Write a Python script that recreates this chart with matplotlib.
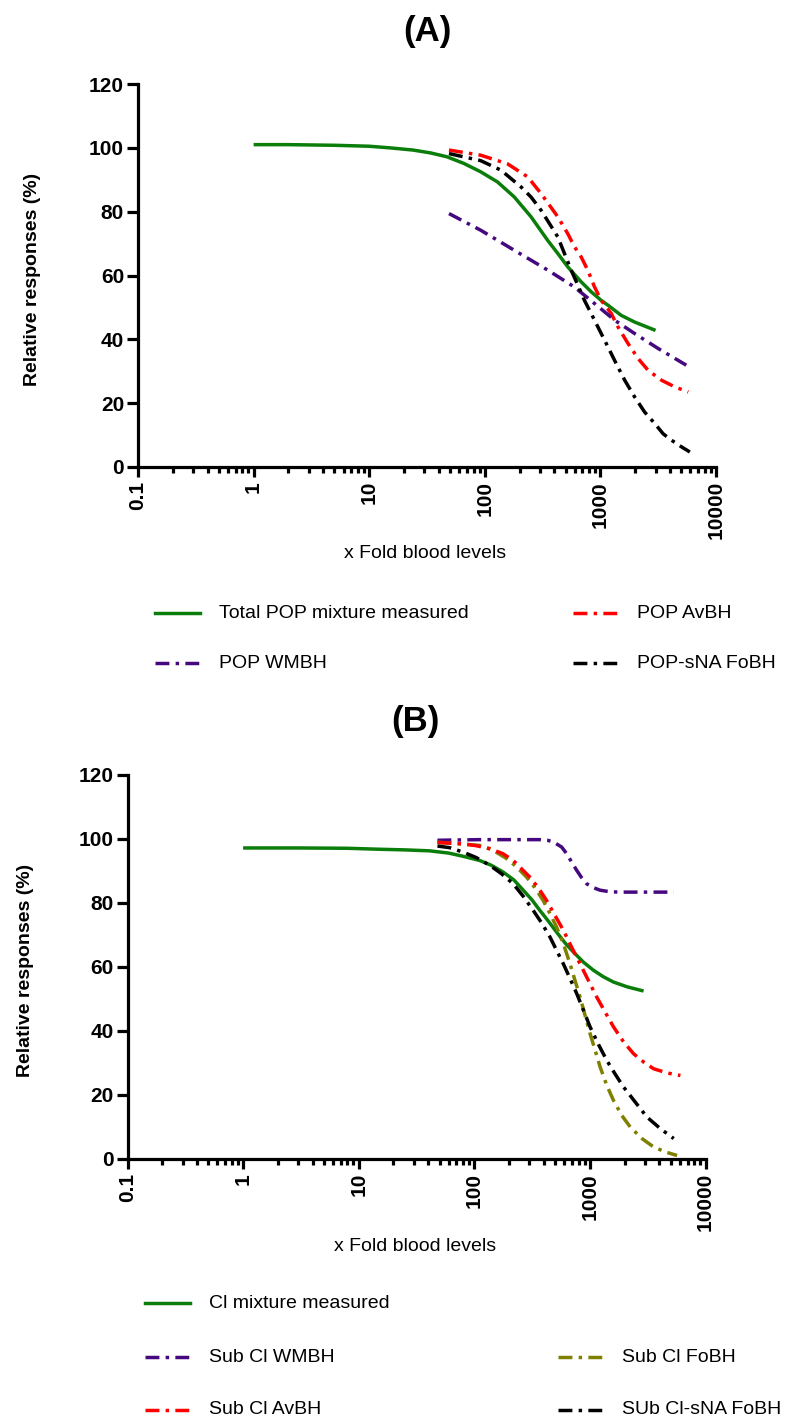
import matplotlib
matplotlib.use("Agg")
import matplotlib.pyplot as plt
from matplotlib.lines import Line2D
from matplotlib.ticker import LogLocator, FixedLocator, NullFormatter

plt.rcParams['font.family'] = ['Liberation Sans', 'DejaVu Sans']

# ---- panel A data ----
a_total_x = [1, 2, 5, 10, 15, 24, 34, 47, 66, 92, 129, 180, 251, 350, 428, 522,
             682, 832, 1016, 1162, 1515, 1981, 3000]
a_total_y = [101, 101, 100.8, 100.5, 100, 99.3, 98.4, 97.2, 95.1, 92.5, 89.3, 84.6, 78.4, 71,
             66.9, 62.7, 58, 54.9, 52.2, 50.7, 47.5, 45.4, 42.8]

a_avbh_x = [49, 92, 157, 235, 306, 428, 522, 597, 682, 779, 890, 1016, 1241, 1419, 1733,
            2117, 2585, 3372, 4402, 5755]
a_avbh_y = [99.3, 97.7, 95, 90.9, 85.7, 78.4, 73.1, 69, 65.8, 61.6, 56.4, 52.2, 48.1, 43.9,
            38.7, 34, 30.3, 27.2, 25.1, 23.5]

a_wmbh_x = [49, 92, 180, 350, 595, 891, 1327, 1981, 3170, 5530]
a_wmbh_y = [79.4, 74.2, 67.9, 61.7, 56.4, 51.2, 46, 41.8, 37.1, 31.9]

a_sna_x = [49, 92, 138, 205, 251, 306, 362, 428, 558, 638, 728, 832, 951, 1123, 1327, 1622,
           1981, 2415, 2955, 3491, 4122, 5035, 5940]
a_sna_y = [98.2, 96, 93, 87.8, 84.6, 80.5, 76.3, 72.1, 61.7, 57, 52.2, 48.1, 43.9, 38.7, 33.4,
           27.2, 21.9, 17.2, 13.6, 10.4, 8.4, 6.3, 4.7]

# ---- panel B data ----
b_total_x = [1, 3, 8, 15, 25, 41, 60, 80, 111, 140, 177, 220, 265, 315, 369, 440, 515, 610,
             719, 880, 1072, 1300, 1600, 2100, 2912]
b_total_y = [97.2, 97.2, 97.1, 96.8, 96.6, 96.3, 95.6, 94.6, 93.3, 91.8, 89.7, 87.2, 84, 81,
             77.7, 74.2, 70.9, 67.5, 64.7, 61.5, 59, 57, 55.3, 53.8, 52.5]

b_wmbh_x = [48, 111, 250, 369, 430, 482, 569, 630, 695, 769, 849, 938, 1072, 1225, 1496, 1828,
            5310]
b_wmbh_y = [99.6, 99.8, 99.8, 99.8, 99.6, 99.1, 97.5, 95.4, 92.8, 90.2, 87.9, 86, 84.8, 84,
            83.5, 83.4, 83.4]

b_avbh_x = [48, 80, 104, 136, 177, 217, 256, 302, 357, 422, 499, 589, 695, 822, 970, 1146,
            1355, 1600, 1954, 2386, 2916, 3560, 4650, 6065]
b_avbh_y = [98.9, 98.5, 97.9, 97, 95.4, 93.3, 90.7, 88.1, 84.8, 80.8, 76.1, 71.5, 66.2, 61,
            55.8, 50.6, 45.9, 41.3, 36.6, 32.9, 30.3, 28.2, 26.9, 26.1]

b_fobh_x = [48, 111, 145, 190, 232, 283, 334, 394, 451, 515, 589, 673, 743, 822, 908, 1003,
            1109, 1225, 1400, 1600, 1888, 2233, 2818, 3560, 4498, 5675]
b_fobh_y = [99, 98, 96.5, 93.9, 91.3, 88.1, 84.8, 80.8, 76.7, 72.5, 67.3, 61, 55.8, 50.6, 44.9,
            39.2, 34, 28.8, 23, 18.3, 13.6, 10, 6.4, 3.75, 2.2, 1.1]

b_sna_x = [48, 61, 80, 104, 136, 171, 217, 265, 323, 382, 451, 515, 589, 673, 769, 879, 1003,
           1186, 1400, 1656, 1954, 2466, 3115, 4066, 5310]
b_sna_y = [97.8, 97.3, 95.9, 94.2, 91.8, 89.2, 86, 82.1, 77.7, 73.8, 69.4, 65.2, 61, 56.4, 51.7,
           46.5, 41.3, 35.8, 30.8, 26.5, 22.5, 17.8, 13.1, 9.5, 6.4]

xticks = [0.1, 1, 10, 100, 1000, 10000]
xtick_labels = ["0.1", "1", "10", "100", "1000", "10000"]
yticks = [0, 20, 40, 60, 80, 100, 120]

GREEN = "#0b7d0b"
RED = "#ff0000"
PURPLE = "#45087f"
BLACK = "#000000"
OLIVE = "#808000"
LW = 2.5
DASHDOT = (0, (4, 1.8, 1, 1.8))

W, H = 789, 1427
fig = plt.figure(figsize=(W / 100, H / 100), dpi=100)


def make_axes(left, right, top, bottom):
    ax = fig.add_axes([left / W, 1 - bottom / H, (right - left) / W, (bottom - top) / H])
    ax.set_xscale("log")
    ax.set_xlim(0.1, 10000)
    ax.set_ylim(0, 120)
    for s in ["top", "right"]:
        ax.spines[s].set_visible(False)
    for s in ["left", "bottom"]:
        ax.spines[s].set_linewidth(2.3)
    ax.xaxis.set_major_locator(FixedLocator(xticks))
    ax.set_xticklabels(xtick_labels, rotation=90, fontsize=15, fontweight="bold")
    ax.xaxis.set_minor_locator(LogLocator(base=10, subs=range(2, 10), numticks=20))
    ax.xaxis.set_minor_formatter(NullFormatter())
    ax.set_yticks(yticks)
    ax.set_yticklabels([str(v) for v in yticks], fontsize=15, fontweight="bold")
    ax.tick_params(axis="x", which="major", length=7, width=2.3, pad=3)
    ax.tick_params(axis="x", which="minor", length=4.5, width=2.3)
    ax.tick_params(axis="y", which="major", length=8, width=2.3, pad=2)
    ax.set_ylabel("Relative responses (%)", fontsize=14, fontweight="bold")
    ax.set_xlabel("x Fold blood levels", fontsize=14)
    return ax


def legend_entry(x, y, color, ls, label):
    # x, y in figure pixels (top-left origin)
    fig.add_artist(Line2D([x / W, (x + 45) / W], [1 - y / H, 1 - y / H],
                          color=color, lw=LW, linestyle=ls, transform=fig.transFigure))
    fig.text((x + 64) / W, 1 - y / H, label, fontsize=14, va="center", ha="left")


# ---- panel A ----
axA = make_axes(138, 716, 84, 467)
axA.plot(a_total_x, a_total_y, color=GREEN, lw=LW, solid_capstyle="butt")
axA.plot(a_avbh_x, a_avbh_y, color=RED, lw=LW, linestyle=DASHDOT)
axA.plot(a_wmbh_x, a_wmbh_y, color=PURPLE, lw=LW, linestyle=DASHDOT)
axA.plot(a_sna_x, a_sna_y, color=BLACK, lw=LW, linestyle=DASHDOT)
axA.yaxis.set_label_coords(-0.168, 0.49)
axA.xaxis.set_label_coords(0.497, -0.203)
fig.text(427 / W, 1 - 32 / H, "(A)", fontsize=25, fontweight="bold", ha="center", va="center")

legend_entry(155, 613, GREEN, "-", "Total POP mixture measured")
legend_entry(573, 613, RED, DASHDOT, "POP AvBH")
legend_entry(155, 663, PURPLE, DASHDOT, "POP WMBH")
legend_entry(573, 663, BLACK, DASHDOT, "POP-sNA FoBH")

# ---- panel B ----
axB = make_axes(127.5, 705.5, 775, 1159)
axB.plot(b_total_x, b_total_y, color=GREEN, lw=LW, solid_capstyle="butt")
axB.plot(b_wmbh_x, b_wmbh_y, color=PURPLE, lw=LW, linestyle=DASHDOT)
axB.plot(b_fobh_x, b_fobh_y, color=OLIVE, lw=LW, linestyle=DASHDOT)
axB.plot(b_avbh_x, b_avbh_y, color=RED, lw=LW, linestyle=DASHDOT)
axB.plot(b_sna_x, b_sna_y, color=BLACK, lw=LW, linestyle=DASHDOT)
axB.yaxis.set_label_coords(-0.162, 0.49)
axB.xaxis.set_label_coords(0.497, -0.205)
fig.text(415 / W, 1 - 722 / H, "(B)", fontsize=25, fontweight="bold", ha="center", va="center")

legend_entry(145, 1303, GREEN, "-", "Cl mixture measured")
legend_entry(145, 1357, PURPLE, DASHDOT, "Sub Cl WMBH")
legend_entry(558, 1357, OLIVE, DASHDOT, "Sub Cl FoBH")
legend_entry(145, 1410, RED, DASHDOT, "Sub Cl AvBH")
legend_entry(558, 1410, BLACK, DASHDOT, "SUb Cl-sNA FoBH")

fig.savefig("out.png", dpi=100)
